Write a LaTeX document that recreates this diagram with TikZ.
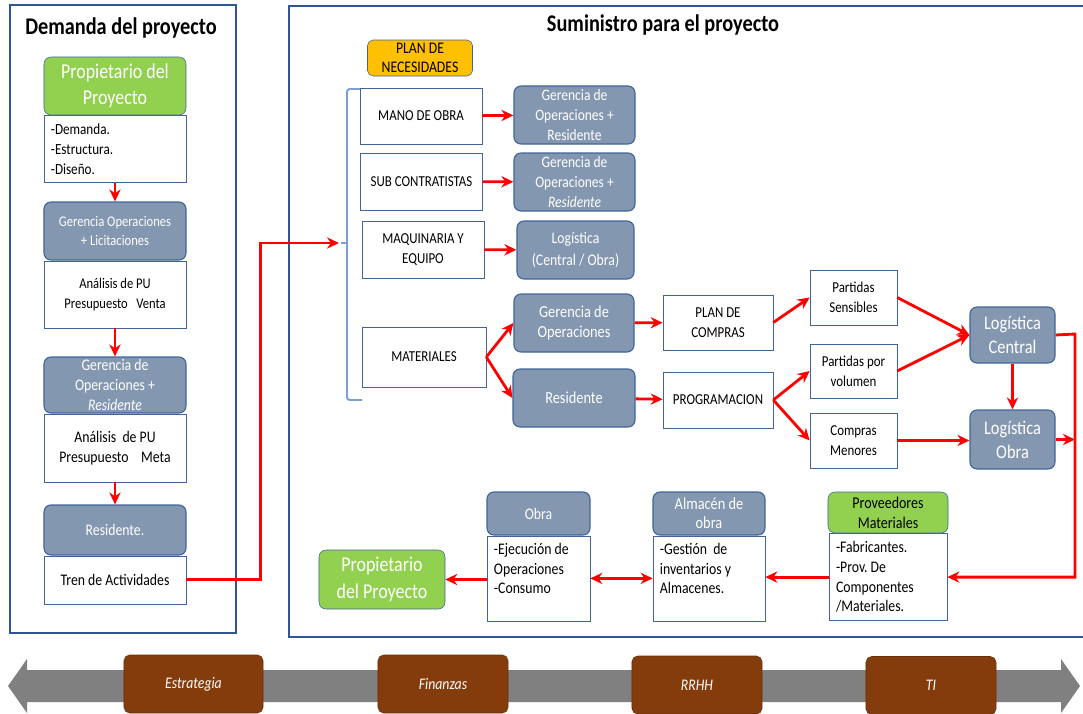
\documentclass[tikz,border=0pt]{standalone}
\usepackage{fontspec}
\setmainfont{Carlito}[FakeStretch=0.85]
\usetikzlibrary{
  positioning,
  arrows.meta
}
\definecolor{frameblue}{HTML}{2F5597}
\definecolor{edge}{HTML}{41659A}
\definecolor{slate}{HTML}{8497B0}
\definecolor{leaf}{HTML}{92D050}
\definecolor{amber}{HTML}{FFC000}
\definecolor{rust}{HTML}{843C0C}
\definecolor{railgray}{HTML}{808080}
\definecolor{bracket}{HTML}{7D9FD6}

\begin{document}
\begin{tikzpicture}[
  x=0.025cm, y=-0.025cm,
  panel/.style={draw=frameblue, line width=2pt},
  heading/.style={font=\fontsize{17}{19}\selectfont\bfseries},
  owner/.style={draw=edge, fill=leaf, rounded corners=5pt, text=white, align=center,
                font=\fontsize{15}{19}\selectfont, inner sep=1pt},
  role/.style={draw=edge, line width=0.8pt, fill=slate, rounded corners=5pt, text=white,
               align=center, font=\fontsize{11.5}{14}\selectfont, inner sep=1pt},
  note/.style={draw=edge, fill=white, align=flush left, inner xsep=5pt,
               font=\fontsize{11.5}{14}\selectfont},
  item/.style={draw=edge, fill=white, align=center, inner sep=1pt,
               font=\fontsize{10.8}{14}\selectfont},
  tag/.style={draw=rust!80!black, fill=rust, rounded corners=4pt, text=white,
              font=\fontsize{11.5}{13}\selectfont\itshape, minimum width=3.25cm, minimum height=1.45cm},
  flow/.style={-{Stealth[length=3mm, width=2.8mm]}, red, line width=2pt},
  twoway/.style={{Stealth[length=3mm, width=2.8mm]}-{Stealth[length=3mm, width=2.8mm]}, red, line width=2pt}
]
  \useasboundingbox (0,0) rectangle (1083,713);

  % Frames
  \draw[panel] (10,5) rectangle (236,633);
  \draw[panel] (289,6) rectangle (1095,637);
  \node[heading] (demtitle) at (121,28) {Demanda del proyecto};
  \node[heading] (suptitle) at (663,25) {Suministro para el proyecto};

  % Demand column
  \node[owner, minimum width=3.55cm, minimum height=1.45cm] (own1) at (115,86) {Propietario del\\Proyecto};
  \node[note, below=0pt of own1, text width=3.2cm, minimum height=1.675cm, font=\fontsize{11}{14}\selectfont] (dem1) {-Demanda.\\-Estructura.\\-Diseño.};
  \node[role, minimum width=3.55cm, minimum height=1.45cm, font=\fontsize{10.5}{14}\selectfont] (ger1) at (115,231) {Gerencia Operaciones\\+ Licitaciones};
  \node[item, below=0pt of ger1, minimum width=3.55cm, minimum height=1.675cm, font=\fontsize{10.5}{14.5}\selectfont] (ana1) {Análisis de PU\\Presupuesto\ \ \ Venta};
  \node[role, minimum width=3.55cm, minimum height=1.4cm] (ger2) at (115,385) {Gerencia de\\Operaciones +\\\textit{Residente}};
  \node[item, below=0pt of ger2, minimum width=3.55cm, minimum height=1.7cm, font=\fontsize{11.5}{14}\selectfont] (ana2) {Análisis\ \ de PU\\Presupuesto\ \ \ \ Meta};
  \node[role, minimum width=3.55cm, minimum height=1.25cm] (res1) at (115,530) {Residente.};
  \node[item, below=0pt of res1, minimum width=3.55cm, minimum height=1.2cm, font=\fontsize{11.5}{14}\selectfont] (tren) {Tren de Actividades};

  \draw[flow] (dem1.south) -- (ger1.north);
  \draw[flow] (ana1.south) -- (ger2.north);
  \draw[flow] (ana2.south) -- (res1.north);

  % Needs plan
  \node[draw=edge, fill=amber, rounded corners=4pt, align=center, inner sep=1pt,
        font=\fontsize{11.5}{13}\selectfont, minimum width=2.625cm, minimum height=0.9cm] (plan) at (420,58) {PLAN DE\\NECESIDADES};
  \draw[bracket, line width=1.4pt, rounded corners=2pt] (362,89) -- (347,89) -- (347,400) -- (362,400);
  \draw[bracket, line width=1.4pt] (347,243) -- (341,243);
  \coordinate (brk) at (339,243);
  \draw[flow] (tren.east) -- ++(74,0) |- (brk);

  \node[item, minimum width=3.05cm, minimum height=1.4cm] (mano) at (421,116) {MANO DE OBRA};
  \node[item, minimum width=3.05cm, minimum height=1.425cm] (sub) at (421.5,181.5) {SUB CONTRATISTAS};
  \node[item, minimum width=3.05cm, minimum height=1.425cm] (maq) at (423,249.5) {MAQUINARIA Y\\EQUIPO};
  \node[item, minimum width=3.1cm, minimum height=1.5cm] (mat) at (424,357) {MATERIALES};

  \node[role, minimum width=3.025cm, minimum height=1.45cm, font=\fontsize{11.3}{14}\selectfont] (gmo) at (574.5,115) {Gerencia de\\Operaciones +\\Residente};
  \node[role, minimum width=3.025cm, minimum height=1.45cm, font=\fontsize{11.3}{14}\selectfont] (gsc) at (574.5,182) {Gerencia de\\Operaciones +\\\textit{Residente}};
  \node[role, minimum width=2.925cm, minimum height=1.45cm, font=\fontsize{11.5}{15.5}\selectfont] (logi) at (575.5,250) {Logística\\(Central / Obra)};
  \node[role, minimum width=3cm, minimum height=1.45cm, font=\fontsize{12}{14.5}\selectfont] (gop) at (574,323) {Gerencia de\\Operaciones};
  \node[role, minimum width=3.05cm, minimum height=1.45cm, font=\fontsize{12}{14}\selectfont] (res2) at (574,398) {Residente};

  \draw[flow] (mano) -- (gmo);
  \draw[flow] (sub) -- (gsc);
  \draw[flow] (maq) -- (logi);
  \draw[flow] (mat.east) -- (gop.west);
  \draw[flow] (mat.east) -- (res2.west);

  % Purchasing
  \node[item, minimum width=2.75cm, minimum height=1.375cm] (comp) at (718,322.5) {PLAN DE\\COMPRAS};
  \node[item, minimum width=2.75cm, minimum height=1.4cm] (prog) at (718,400) {PROGRAMACION};
  \node[item, minimum width=2.175cm, minimum height=1.375cm] (psen) at (853.5,297.5) {Partidas\\Sensibles};
  \node[item, minimum width=2.175cm, minimum height=1.35cm] (pvol) at (853.5,371) {Partidas por\\volumen};
  \node[item, minimum width=2.175cm, minimum height=1.375cm] (cmen) at (853.5,440.5) {Compras\\Menores};
  \node[role, minimum width=2.125cm, minimum height=1.4cm, font=\fontsize{13.7}{17}\selectfont] (lcen) at (1012.5,335) {Logística\\Central};
  \node[role, minimum width=2.125cm, minimum height=1.475cm, font=\fontsize{13.7}{17}\selectfont] (lobr) at (1012.5,439.5) {Logística\\Obra};

  \draw[flow] (gop) -- (comp);
  \draw[flow] (res2) -- (prog);
  \draw[flow] (comp.east) -- (psen.west);
  \draw[flow] (prog.east) -- (pvol.west);
  \draw[flow] (prog.east) -- (cmen.west);
  \draw[flow] (psen.east) -- (lcen.west);
  \draw[flow] (pvol.east) -- (lcen.west);
  \draw[flow] (cmen.east) -- (cmen.east -| lobr.west);
  \draw[flow] (lcen.south) -- (lobr.north);

  % Delivery
  \node[draw=edge, fill=leaf, rounded corners=5pt, align=center, inner sep=1pt,
        font=\fontsize{11.7}{14}\selectfont, minimum width=3cm, minimum height=1.025cm] (prov) at (888,512.5) {Proveedores\\Materiales};
  \node[note, below=0pt of prov, text width=2.6cm, minimum height=2.175cm] (provn) {-Fabricantes.\\-Prov.\ De\\Componentes\\/Materiales.};
  \node[role, minimum width=2.8cm, minimum height=1.075cm, font=\fontsize{12}{13.5}\selectfont] (alm) at (709,513.5) {Almacén de\\obra};
  \node[note, below=0pt of alm, text width=2.45cm, minimum height=2.125cm] (almn) {-Gestión\ \ de\\inventarios y\\Almacenes.\\\mbox{}};
  \node[role, minimum width=2.575cm, minimum height=1.075cm] (obra) at (538.5,513.5) {Obra};
  \node[note, below=0pt of obra, text width=2.225cm, minimum height=2.125cm] (obran) {-Ejecución de\\Operaciones\\-Consumo\\\mbox{}};
  \node[owner, minimum width=3.15cm, minimum height=1.475cm] (own2) at (382,579.5) {Propietario\\del Proyecto};

  \coordinate (rail) at (1075,334);
  \draw[flow] (lcen.east) -- (rail) |- (provn.east);
  \draw[flow] (lobr.east) -- (lobr.east -| rail);
  \draw[flow] (provn.west) -- (provn.west -| almn.east);
  \draw[twoway] (obran.east |- almn.west) -- (almn.west);
  \draw[flow] (obran.west |- own2.east) -- (own2.east);

  % Support band
  \fill[railgray] (8,686) -- (27,659) -- (27,670) -- (1061,670) -- (1061,659) -- (1080,686)
    -- (1061,713) -- (1061,702) -- (27,702) -- (27,713) -- cycle;
  \node[tag, minimum width=3.475cm] (strat) at (193.5,684) {Estrategia};
  \node[tag] (fin) at (443,684) {Finanzas};
  \node[tag] (hr) at (697,685) {RRHH};
  \node[tag] (it) at (931,685.5) {TI};
\end{tikzpicture}
\end{document}
